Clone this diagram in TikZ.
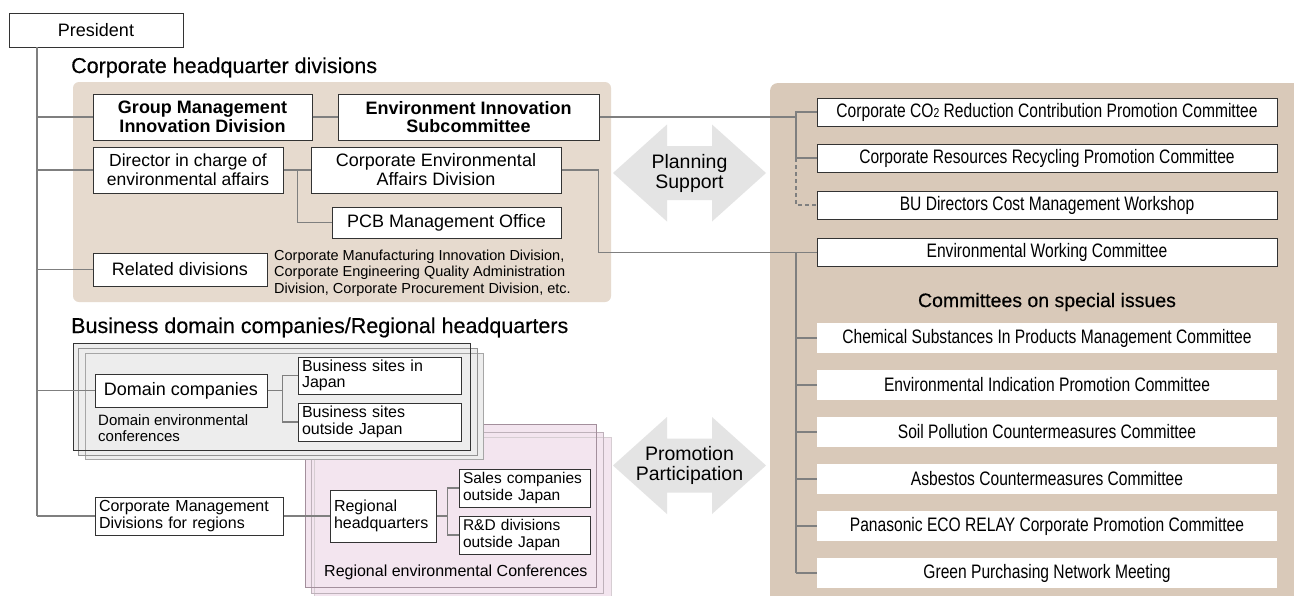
\documentclass[tikz,border=0pt]{standalone}
\usepackage{fontspec}
\setmainfont{Liberation Sans}
\newfontfamily\condfont[FakeStretch=0.80]{Liberation Sans}
\newfontfamily\mediumfont[FakeBold=0.4]{Liberation Sans}
\usepackage{tikz}
\usetikzlibrary{calc,positioning}
\definecolor{HQPanel}{HTML}{E6DACE}
\definecolor{CommitteePanel}{HTML}{D9C9B9}
\definecolor{LinkGrey}{HTML}{7F7F7F}
\definecolor{BoxLine}{HTML}{333333}
\definecolor{ArrowGrey}{HTML}{E4E4E4}
\definecolor{DomainFill}{HTML}{EDEDED}
\definecolor{RegionFill}{HTML}{F3E5EF}
\definecolor{RegionLine}{HTML}{A38F9C}
\newcommand{\pxfont}[2]{\fontsize{#1}{#2}\selectfont}

\begin{document}
\begin{tikzpicture}[x=1pt, y=-1pt,
    box/.style={draw=BoxLine, fill=white, line width=1pt, inner sep=1pt, align=center, font=\pxfont{18}{19}},
    boldbox/.style={box, font=\pxfont{18}{18.5}\bfseries},
    leftbox/.style={box, align=left, inner xsep=4pt, font=\pxfont{16}{16.5}},
    committee/.style={draw=BoxLine, fill=white, line width=1pt, minimum width=460pt, minimum height=28pt, inner sep=0pt, font=\condfont\pxfont{19.5}{19.5}},
    issue/.style={fill=white, minimum width=460pt, minimum height=30pt, inner sep=0pt, font=\condfont\pxfont{19.5}{19.5}},
    heading/.style={inner sep=0pt, font=\mediumfont\pxfont{21.5}{21.5}},
    note/.style={inner sep=0pt, align=left, font=\pxfont{15}{16}},
    arrowtext/.style={inner sep=0pt, align=center, font=\pxfont{19.5}{20}},
    link/.style={draw=LinkGrey, line width=1.4pt}]

    \useasboundingbox (0,0) rectangle (1294,595);
    \fill[white] (0,0) rectangle (1294,595);

    % Panels
    \fill[HQPanel, rounded corners=6pt] (73,82) rectangle (611,302);
    \fill[CommitteePanel, rounded corners=8pt] (770,83) rectangle (1330,630);

    % Planning / promotion arrows
    \fill[ArrowGrey] (613,173) -- (667,124.5) -- (667,146) -- (712,146) -- (712,124.5) -- (766,173)
        -- (712,221.5) -- (712,200) -- (667,200) -- (667,221.5) -- cycle;
    \node[arrowtext] (planning) at (689.5,173) {Planning\\Support};
    \fill[ArrowGrey] (613,465.5) -- (667,417) -- (667,438.5) -- (712,438.5) -- (712,417) -- (766,465.5)
        -- (712,514) -- (712,492.5) -- (667,492.5) -- (667,514) -- cycle;
    \node[arrowtext] (promotion) at (689.5,465.5) {Promotion\\Participation};

    % President
    \node[box, minimum width=174pt, minimum height=34pt] (pres) at (96,30) {President};
    \coordinate (trunk) at (37,47);

    % Corporate headquarter divisions
    \node[heading, anchor=base west] (hqhead) at (71,73) {Corporate headquarter divisions};
    \node[boldbox, minimum width=219pt, minimum height=46pt] (gmi) at (202.5,117) {Group Management\\Innovation Division};
    \node[boldbox, minimum width=261pt, minimum height=46pt] (eis) at (468.5,117) {Environment Innovation\\Subcommittee};
    \node[box, minimum width=190pt, minimum height=46pt, font=\pxfont{17.5}{19}] (dir) at (188,170) {Director in charge of\\environmental affairs};
    \node[box, minimum width=250pt, minimum height=46pt] (cead) at (436,170) {Corporate Environmental\\Affairs Division};
    \node[box, minimum width=229pt, minimum height=31pt] (pcb) at (446.5,222.5) {PCB Management Office};
    \node[box, minimum width=174pt, minimum height=33pt] (rel) at (180,269.5) {Related divisions};
    \node[note, anchor=west, font=\pxfont{14.5}{16.5}] (reltext) at (274,273) {Corporate Manufacturing Innovation Division,\\Corporate Engineering Quality Administration\\Division, Corporate Procurement Division, etc.};

    % Committees
    \coordinate (bus) at (796,0);
    \node[committee] (co2) at (1047,112) {Corporate CO{\pxfont{13}{13}2} Reduction Contribution Promotion Committee};
    \node[committee] (crr) at (1047,158) {Corporate Resources Recycling Promotion Committee};
    \node[committee] (bu) at (1047,205) {BU Directors Cost Management Workshop};
    \node[committee] (ewc) at (1047,252.5) {Environmental Working Committee};
    \node[heading, font=\mediumfont\pxfont{19.5}{20}] (special) at (1047,302) {Committees on special issues};
    \node[issue] (chem) at (1047,338) {Chemical Substances In Products Management Committee};
    \node[issue] (envind) at (1047,385) {Environmental Indication Promotion Committee};
    \node[issue] (soil) at (1047,432) {Soil Pollution Countermeasures Committee};
    \node[issue] (asb) at (1047,479) {Asbestos Countermeasures Committee};
    \node[issue] (eco) at (1047,526) {Panasonic ECO RELAY Corporate Promotion Committee};
    \node[issue] (green) at (1047,573) {Green Purchasing Network Meeting};

    % Regional stack
    \fill[RegionFill] (314,437) rectangle (611,600);
    \fill[RegionFill] (311,432) rectangle (603,593);
    \fill[RegionFill] (305,424) rectangle (596,587);
    \draw[RegionLine!45, line width=1pt] (314,437) rectangle (611,600);
    \draw[RegionLine!70, line width=1pt] (311,432) rectangle (603,593);
    \draw[RegionLine, line width=1pt] (305,424) rectangle (596,587);

    % Domain stack
    \node[heading, anchor=base west] (bizhead) at (71,333) {Business domain companies/Regional headquarters};
    \fill[DomainFill] (85,353) rectangle (483,459);
    \fill[DomainFill] (78,348) rectangle (477,455);
    \fill[DomainFill] (73,343) rectangle (470,450);
    \draw[gray!70, line width=1pt] (85,353) rectangle (483,459);
    \draw[gray!85, line width=1pt] (78,348) rectangle (477,455);
    \draw[BoxLine, line width=1pt] (73,343) rectangle (470,450);

    \node[box, minimum width=172pt, minimum height=33pt] (dom) at (181,390.5) {Domain companies};
    \node[note, anchor=west] (domconf) at (98,428) {Domain environmental\\conferences};
    \node[leftbox, text width=155pt, minimum height=37pt] (bsjp) at (379.5,375.5) {Business sites in\\Japan};
    \node[leftbox, text width=155pt, minimum height=38pt] (bsout) at (379.5,422) {Business sites\\outside Japan};

    \node[leftbox, text width=180pt, minimum height=38pt] (cmd) at (189,516) {Corporate Management\\Divisions for regions};
    \node[leftbox, text width=98pt, minimum height=52pt] (rhq) at (383,516) {Regional\\headquarters};
    \node[leftbox, text width=123pt, minimum height=38pt, font=\pxfont{15.5}{16.5}] (sales) at (524.5,488) {Sales companies\\outside Japan};
    \node[leftbox, text width=123pt, minimum height=38pt, font=\pxfont{15.5}{16.5}] (rnd) at (524.5,535) {R\&D divisions\\outside Japan};
    \node[note, anchor=west, font=\pxfont{16}{16}] (regconf) at (324,572) {Regional environmental Conferences};

    % Connectors
    \draw[link] (trunk) -- (trunk |- cmd.west);
    \foreach \n in {gmi,dir,rel,dom,cmd}
        \draw[link] (\n.west -| trunk) -- (\n.west);
    \draw[link] (gmi.east) -- (eis.west);
    \draw[link] (dir.east) -- (cead.west);
    \draw[link] ($(dir.east)+(14,0)$) |- (pcb.west);
    \draw[link] (eis.east) -- (eis.east -| bus);
    \draw[link] (co2.west) -| (crr.west -| bus) -- (crr.west);
    \draw[link, dashed, dash pattern=on 4pt off 3pt] (crr.west -| bus) |- (bu.west);
    \draw[link] (cead.east) -- ++(37,0) |- (ewc.west);
    \draw[link] (ewc.west -| bus) -- (green.west -| bus);
    \foreach \n in {chem,envind,soil,asb,eco,green}
        \draw[link] (\n.west -| bus) -- (\n.west);
    \draw[link] (dom.east) -- ++(15,0) coordinate (domfork);
    \draw[link] (bsjp.west) -| (domfork) |- (bsout.west);
    \draw[link] (cmd.east) -- (rhq.west);
    \draw[link] (rhq.east) -- ++(11,0) coordinate (rhqfork);
    \draw[link] (sales.west) -| (rhqfork) |- (rnd.west);

\end{tikzpicture}
\end{document}
